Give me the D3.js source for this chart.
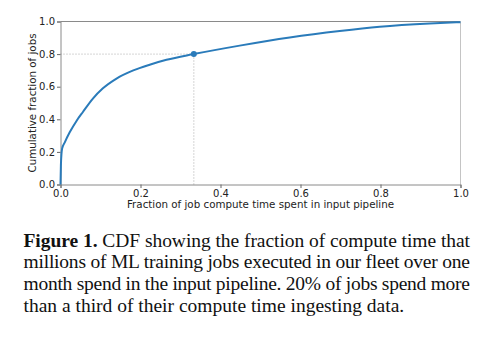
<!DOCTYPE html>
<html>
<head>
<meta charset="utf-8">
<script src="https://cdn.jsdelivr.net/npm/d3@7"></script>
<style>
  body { margin: 0; background: #fff; }
  svg { display: block; }
</style>
</head>
<body>
<div id="chart"></div>
<script>
// CDF points: fraction of compute time vs cumulative fraction of jobs
const fracTime = [0, 0.001, 0.004, 0.011, 0.023, 0.04, 0.056, 0.081, 0.106, 0.14, 0.182, 0.223, 0.265, 0.333, 0.448, 0.573, 0.698, 0.798, 0.923, 1.0];
const fracJobs = [0, 0.12, 0.22, 0.26, 0.32, 0.39, 0.445, 0.527, 0.59, 0.65, 0.70, 0.735, 0.765, 0.80, 0.852, 0.902, 0.942, 0.968, 0.988, 0.996];
const markX = 1 / 3;
const markY = 0.8;
const tickVals = [0, 0.2, 0.4, 0.6, 0.8, 1.0];
const captionLines = [
    "CDF showing the fraction of compute time that",
    "millions of ML training jobs executed in our fleet over one",
    "month spend in the input pipeline. 20% of jobs spend more",
    "than a third of their compute time ingesting data."
];

const width = 495, height = 338;
const svg = d3.select('#chart').append('svg')
    .attr('width', width)
    .attr('height', height);

const x = d3.scaleLinear().domain([0, 1]).range([60.5, 460.5]);
const y = d3.scaleLinear().domain([0, 1]).range([184.5, 21.5]);

const sans = 'DejaVu Sans, sans-serif';

// dotted guides to the marked point
svg.append('line')
    .attr('x1', x(0)).attr('x2', x(markX))
    .attr('y1', y(markY)).attr('y2', y(markY))
    .attr('stroke', '#aaa').attr('stroke-width', 1)
    .attr('stroke-dasharray', '1,2');
svg.append('line')
    .attr('x1', x(markX)).attr('x2', x(markX))
    .attr('y1', y(0)).attr('y2', y(markY))
    .attr('stroke', '#aaa').attr('stroke-width', 1)
    .attr('stroke-dasharray', '1,2');

// spines
svg.append('line').attr('x1', x(0)).attr('x2', x(1)).attr('y1', y(1)).attr('y2', y(1))
    .attr('stroke', '#8a8a8a').attr('stroke-width', 1);
svg.append('line').attr('x1', x(1)).attr('x2', x(1)).attr('y1', y(1)).attr('y2', y(0))
    .attr('stroke', '#c4c4c4').attr('stroke-width', 1);

// axes
const xAxis = svg.append('g')
    .attr('transform', `translate(0,${y(0)})`)
    .call(d3.axisBottom(x).tickValues(tickVals).tickFormat(d3.format('.1f')).tickSize(3.5).tickPadding(1.5));
const yAxis = svg.append('g')
    .attr('transform', `translate(${x(0)},0)`)
    .call(d3.axisLeft(y).tickValues(tickVals).tickFormat(d3.format('.1f')).tickSize(3.5).tickPadding(2));

[xAxis, yAxis].forEach(g => {
    g.select('.domain').attr('stroke', '#8a8a8a');
    g.selectAll('.tick line').attr('stroke', '#666');
    g.selectAll('.tick text')
        .attr('fill', '#222')
        .style('font-family', sans)
        .style('font-size', '10px');
});

// axis titles
svg.append('text')
    .attr('x', (x(0) + x(1)) / 2)
    .attr('y', 208)
    .attr('text-anchor', 'middle')
    .attr('fill', '#222')
    .style('font-family', sans)
    .style('font-size', '10.3px')
    .text('Fraction of job compute time spent in input pipeline');

svg.append('text')
    .attr('transform', `translate(36,${(y(0) + y(1)) / 2}) rotate(-90)`)
    .attr('text-anchor', 'middle')
    .attr('fill', '#222')
    .style('font-family', sans)
    .style('font-size', '10.3px')
    .text('Cumulative fraction of jobs');

// the CDF curve
const pts = fracTime.map((t, i) => [t, fracJobs[i]]);
const line = d3.line()
    .x(d => x(d[0]))
    .y(d => y(d[1]))
    .curve(d3.curveMonotoneX);

svg.append('path')
    .datum(pts)
    .attr('d', line)
    .attr('fill', 'none')
    .attr('stroke', '#2a7bba')
    .attr('stroke-width', 2);

svg.append('circle')
    .attr('cx', x(markX))
    .attr('cy', y(markY))
    .attr('r', 3)
    .attr('fill', '#2a7bba');

// caption
const serif = 'Liberation Serif, Times New Roman, serif';
const capX = 23.5, capRight = 470;
const baseY = [246.5, 268, 290, 311.5];
captionLines.forEach((txt, i) => {
    const t = svg.append('text')
        .attr('x', capX)
        .attr('y', baseY[i])
        .attr('fill', '#111')
        .style('font-family', serif)
        .style('font-size', '19.5px');
    if (i === 0) {
        t.append('tspan').attr('font-weight', 'bold').text('Figure 1. ');
    }
    t.append('tspan').text(txt);
    if (i < captionLines.length - 1) {
        t.attr('textLength', capRight - capX).attr('lengthAdjust', 'spacing');
    }
});
</script>
</body>
</html>
